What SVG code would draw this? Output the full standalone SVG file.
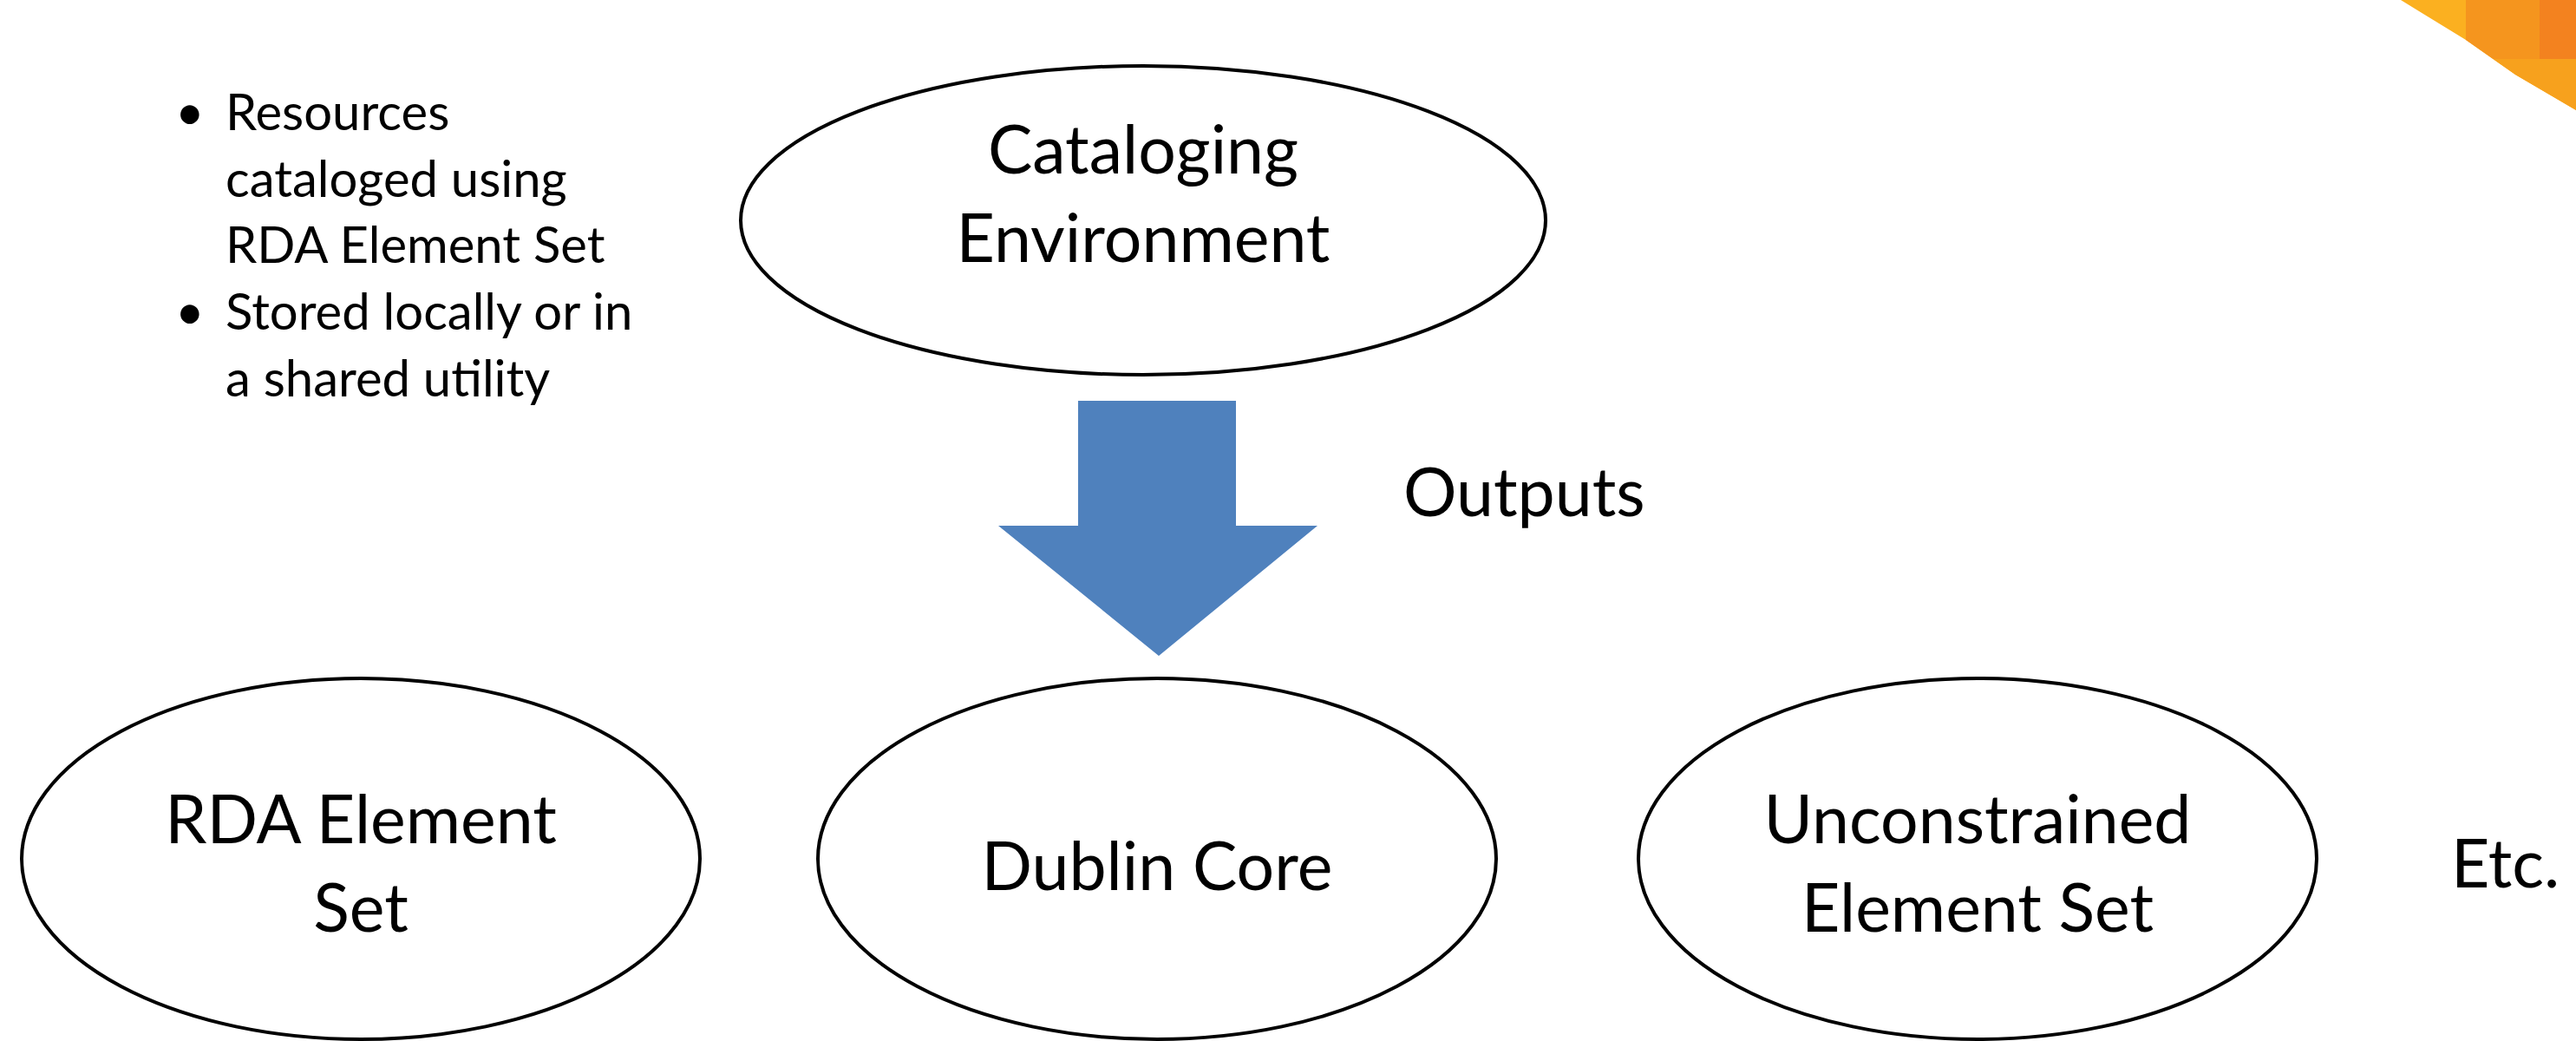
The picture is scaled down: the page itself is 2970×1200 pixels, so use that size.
<svg xmlns="http://www.w3.org/2000/svg" width="2970" height="1200" viewBox="0 0 2970 1200">
<style>
.t{font-family:Lato,"Open Sans","Liberation Sans",sans-serif;fill:#000}
.big{font-size:77px}
.mid{font-size:58px}
.node{fill:#fff;stroke:#000;stroke-width:4}
</style>
<defs>
<clipPath id="corner"><polygon points="2768,0 2970,0 2970,127 2900,86 2843,46"/></clipPath>
</defs>
<rect width="2970" height="1200" fill="#fff"/>
<g id="corner-deco" clip-path="url(#corner)">
<rect x="2760" y="0" width="210" height="130" fill="#FBB020"/>
<rect x="2843" y="0" width="127" height="68" fill="#F5951E"/>
<rect x="2928" y="0" width="42" height="68" fill="#F3821F"/>
<rect x="2843" y="68" width="127" height="62" fill="#F7A11D"/>
</g>
<g id="notes" class="t mid">
<text x="202" y="150">•</text><text x="260" y="150">Resources</text>
<text x="260" y="227">cataloged using</text>
<text x="260" y="303">RDA Element Set</text>
<text x="202" y="380">•</text><text x="260" y="380">Stored locally or in</text>
<text x="260" y="457">a shared utility</text>
</g>
<g id="node-cataloging">
<ellipse class="node" cx="1318" cy="254" rx="464" ry="178"/>
<text class="t big" text-anchor="middle" x="1318" y="200">Cataloging</text>
<text class="t big" text-anchor="middle" x="1318" y="302">Environment</text>
</g>
<g id="connectors">
<polygon points="1243,462 1425,462 1425,606 1519,606 1336,756 1151,606 1243,606" fill="#4F81BD"/>
<text class="t big" x="1618" y="595">Outputs</text>
</g>
<g id="node-rda">
<ellipse class="node" cx="416" cy="990" rx="391" ry="208"/>
<text class="t big" text-anchor="middle" x="416" y="972">RDA Element</text>
<text class="t big" text-anchor="middle" x="416" y="1074">Set</text>
</g>
<g id="node-dc">
<ellipse class="node" cx="1334" cy="990" rx="391" ry="208"/>
<text class="t big" text-anchor="middle" x="1334" y="1026">Dublin Core</text>
</g>
<g id="node-unconstrained">
<ellipse class="node" cx="2280" cy="990" rx="391" ry="208"/>
<text class="t big" text-anchor="middle" x="2280" y="972">Unconstrained</text>
<text class="t big" text-anchor="middle" x="2280" y="1074">Element Set</text>
</g>
<g id="node-etc">
<text class="t big" x="2826" y="1023">Etc.</text>
</g>
</svg>
